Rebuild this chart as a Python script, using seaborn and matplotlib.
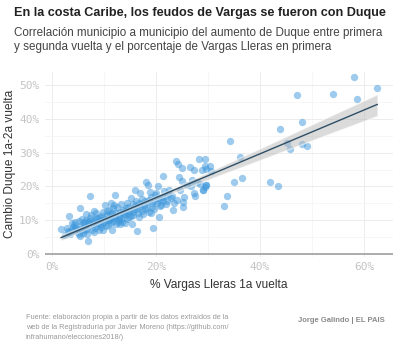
import numpy as np
import pandas as pd
import matplotlib
matplotlib.use("Agg")
import matplotlib.pyplot as plt
from matplotlib.ticker import MultipleLocator, FuncFormatter
import seaborn as sns

# % Vargas Lleras 1a vuelta
vargas = [
    1.7, 2.9, 3.3, 5.4, 2.5, 3.5, 4.0, 4.5, 5.0, 5.5, 6.0, 6.2, 6.5, 6.8, 7.0, 7.3, 7.5, 7.8, 8.0, 8.2,
    8.5, 8.8, 9.0, 9.2, 9.5, 9.8, 4.2, 5.8, 6.6, 3.8, 4.8, 5.2, 7.2, 8.6, 9.4, 7.6, 6.3,
    10.0, 10.2, 10.5, 10.8, 11.0, 11.2, 11.5, 11.6, 11.8, 12.1, 12.2, 12.4, 12.5, 12.8, 13.0, 13.2, 13.5,
    13.8, 14.0, 14.2, 14.5, 14.8, 15.0, 15.4, 15.8, 16.0, 16.3, 15.5, 16.2, 16.5, 13.0, 12.0, 10.6, 11.4,
    14.4, 15.2,
    16.8, 17.0, 17.3, 17.6, 18.0, 18.4, 18.2, 18.6, 19.0, 19.5, 19.2, 19.8, 20.4, 20.5, 20.2, 20.8, 21.3,
    21.5, 21.0, 21.8, 22.2, 22.5, 22.8, 23.1, 23.2, 23.8, 24.2, 24.4, 24.6, 24.0, 17.5, 19.0, 18.8, 20.0,
    16.9,
    25.1, 25.1, 25.3, 25.2, 25.2, 25.9, 26.5, 26.9, 26.7, 27.4, 27.8, 27.4, 27.6, 28.3, 28.8, 28.5, 29.1,
    29.4, 29.7, 29.4, 30.4, 29.6, 30.6, 29.7, 29.4, 29.0,
    58.1, 62.6, 47.1, 54.0, 58.7, 48.1, 43.8, 34.2, 45.3, 48.1, 49.0, 45.8, 36.1, 36.5, 35.1, 42.0, 43.5,
    33.7, 33.1,
    3.0, 4.4, 5.6, 6.9, 8.4, 9.6, 10.9, 11.9, 12.9, 13.6, 14.6, 15.6, 17.8, 19.6, 21.2, 22.0,
    3.2, 3.9, 4.6, 5.1, 5.7, 6.1, 6.4, 7.1, 7.4, 7.9, 8.3, 8.9, 9.3, 9.7, 10.1, 10.4, 10.7, 11.1, 11.3,
    11.7, 12.3, 12.6, 12.9, 13.3, 13.7, 14.1, 14.3, 14.7, 15.1, 15.6, 15.9, 16.4, 16.7, 17.1, 17.4, 17.9,
    18.3, 18.7, 19.3, 19.7, 20.3, 20.7, 21.4, 22.4, 23.4, 9.9, 6.7, 5.3, 8.1, 11.8,
]
# Cambio Duque 1a-2a vuelta
duque = [
    7.4, 7.6, 11.2, 13.5, 5.5, 6.0, 8.0, 9.5, 7.0, 8.5, 6.2, 9.0, 10.2, 7.5, 3.8, 17.3, 11.5, 8.8, 6.5, 10.0,
    12.0, 9.2, 7.2, 11.0, 8.0, 12.5, 8.5, 10.5, 11.8, 7.2, 6.5, 9.8, 9.8, 8.3, 10.2, 7.0, 8.0,
    9.5, 14.5, 11.5, 8.5, 13.0, 10.5, 7.0, 12.2, 9.8, 17.6, 11.0, 8.8, 13.8, 10.2, 12.5, 14.8, 9.5,
    11.8, 9.1, 13.5, 15.2, 11.0, 12.8, 8.8, 13.2, 19.1, 6.8, 14.8, 15.8, 12.0, 9.0, 14.5, 12.8, 15.2,
    10.5, 16.5,
    15.0, 13.8, 16.2, 14.5, 21.3, 20.3, 15.5, 12.5, 16.8, 7.8, 14.0, 17.5, 20.1, 10.9, 15.2, 16.0, 23.2,
    18.6, 14.5, 17.2, 15.8, 19.0, 16.5, 17.2, 13.0, 27.6, 26.8, 22.7, 19.1, 16.0, 11.8, 12.2, 18.5, 18.0,
    18.2,
    25.6, 21.7, 16.8, 15.3, 14.0, 20.4, 25.8, 21.9, 20.1, 24.9, 21.4, 18.1, 17.2, 28.2, 24.9, 20.7, 18.9,
    28.2, 20.4, 26.0, 26.0, 25.1, 24.6, 20.5, 19.8, 18.9,
    52.3, 49.2, 47.1, 47.5, 45.8, 39.0, 36.9, 33.6, 32.9, 32.6, 32.0, 31.0, 28.8, 22.4, 21.3, 21.2, 20.2,
    17.2, 14.2,
    6.8, 7.8, 7.3, 9.6, 10.8, 9.0, 10.0, 11.2, 10.8, 12.0, 12.2, 11.6, 13.2, 15.8, 16.8, 14.8,
    6.5, 9.2, 7.8, 6.0, 7.2, 9.4, 7.0, 8.6, 10.6, 9.6, 7.8, 10.8, 9.0, 11.2, 10.4, 8.2, 10.0, 11.8, 9.2,
    10.8, 12.0, 9.6, 11.4, 10.4, 13.0, 11.6, 12.6, 13.8, 11.4, 12.4, 14.2, 13.4, 11.0, 14.8, 12.8, 15.6,
    13.6, 16.0, 15.0, 13.4, 16.6, 14.2, 15.6, 17.8, 15.2, 7.0, 5.8, 5.2, 12.8, 13.6,
]

df = pd.DataFrame({"vargas": vargas, "duque": duque})

sns.set_theme(style="white")
plt.rcParams["font.family"] = ["Liberation Sans", "DejaVu Sans"]

fig = plt.figure(figsize=(4.14, 3.51), dpi=100)
ax = fig.add_axes([45 / 414, (351 - 256.7) / 351, 348 / 414, 185 / 351])

sns.regplot(
    data=df, x="vargas", y="duque", ax=ax, ci=95,
    scatter_kws=dict(s=28, color="#3e98dc", alpha=0.5, linewidths=0, zorder=3),
    line_kws=dict(color="#2f4f66", lw=1.0, zorder=5),
)
# grey CI band
for coll in ax.collections[1:]:
    coll.set_facecolor("#b8b8b8")
    coll.set_alpha(0.5)
    coll.set_zorder(4)

ax.set_xlim(-1.35, 65.6)
ax.set_ylim(-0.8, 54)
ax.xaxis.set_major_locator(MultipleLocator(20))
ax.xaxis.set_minor_locator(MultipleLocator(10))
ax.yaxis.set_major_locator(MultipleLocator(10))
ax.yaxis.set_minor_locator(MultipleLocator(5))
fmt = FuncFormatter(lambda v, p: f"{int(round(v))}%")
ax.xaxis.set_major_formatter(fmt)
ax.yaxis.set_major_formatter(fmt)

ax.grid(which="major", color="#ececec", lw=0.7)
ax.grid(which="minor", color="#f5f5f5", lw=0.6)
ax.set_axisbelow(True)
for s in ax.spines.values():
    s.set_visible(False)
ax.axhline(0, color="#a0a0a0", lw=1.2, zorder=2)

ax.tick_params(axis="both", which="major", length=2.5, width=0.6, color="#cccccc",
               labelcolor="#c4c4c4", labelsize=8, pad=1.5)
ax.tick_params(axis="both", which="minor", length=0)
for lab in ax.get_xticklabels() + ax.get_yticklabels():
    lab.set_family("DejaVu Sans Mono")

ax.set_xlabel("% Vargas Lleras 1a vuelta", fontsize=8.6, color="#333333", labelpad=5)
ax.set_ylabel("Cambio Duque 1a-2a vuelta", fontsize=8.6, color="#333333", labelpad=2)

fig.text(14 / 414, 1 - 13 / 351, "En la costa Caribe, los feudos de Vargas se fueron con Duque",
         fontsize=9.1, fontweight="bold", color="#222222", va="center", ha="left")
fig.text(14 / 414, 1 - 33 / 351, "Correlación municipio a municipio del aumento de Duque entre primera",
         fontsize=8.4, color="#444444", va="center", ha="left")
fig.text(14 / 414, 1 - 47 / 351, "y segunda vuelta y el porcentaje de Vargas Lleras en primera",
         fontsize=8.4, color="#444444", va="center", ha="left")

fig.text(26 / 414, 1 - 314 / 351,
         "Fuente: elaboración propia a partir de los datos extraídos de la\n"
         "web de la Registraduría por Javier Moreno (https://github.com/\n"
         "infrahumano/elecciones2018/)",
         fontsize=5.3, color="#9a9a9a", va="top", ha="left", linespacing=1.6)
fig.text(385 / 414, 1 - 320.5 / 351, "Jorge Galindo | EL PAIS", fontsize=5.5, fontweight="bold",
         color="#8a8a8a", va="center", ha="right")

fig.savefig("out.png", dpi=100)
